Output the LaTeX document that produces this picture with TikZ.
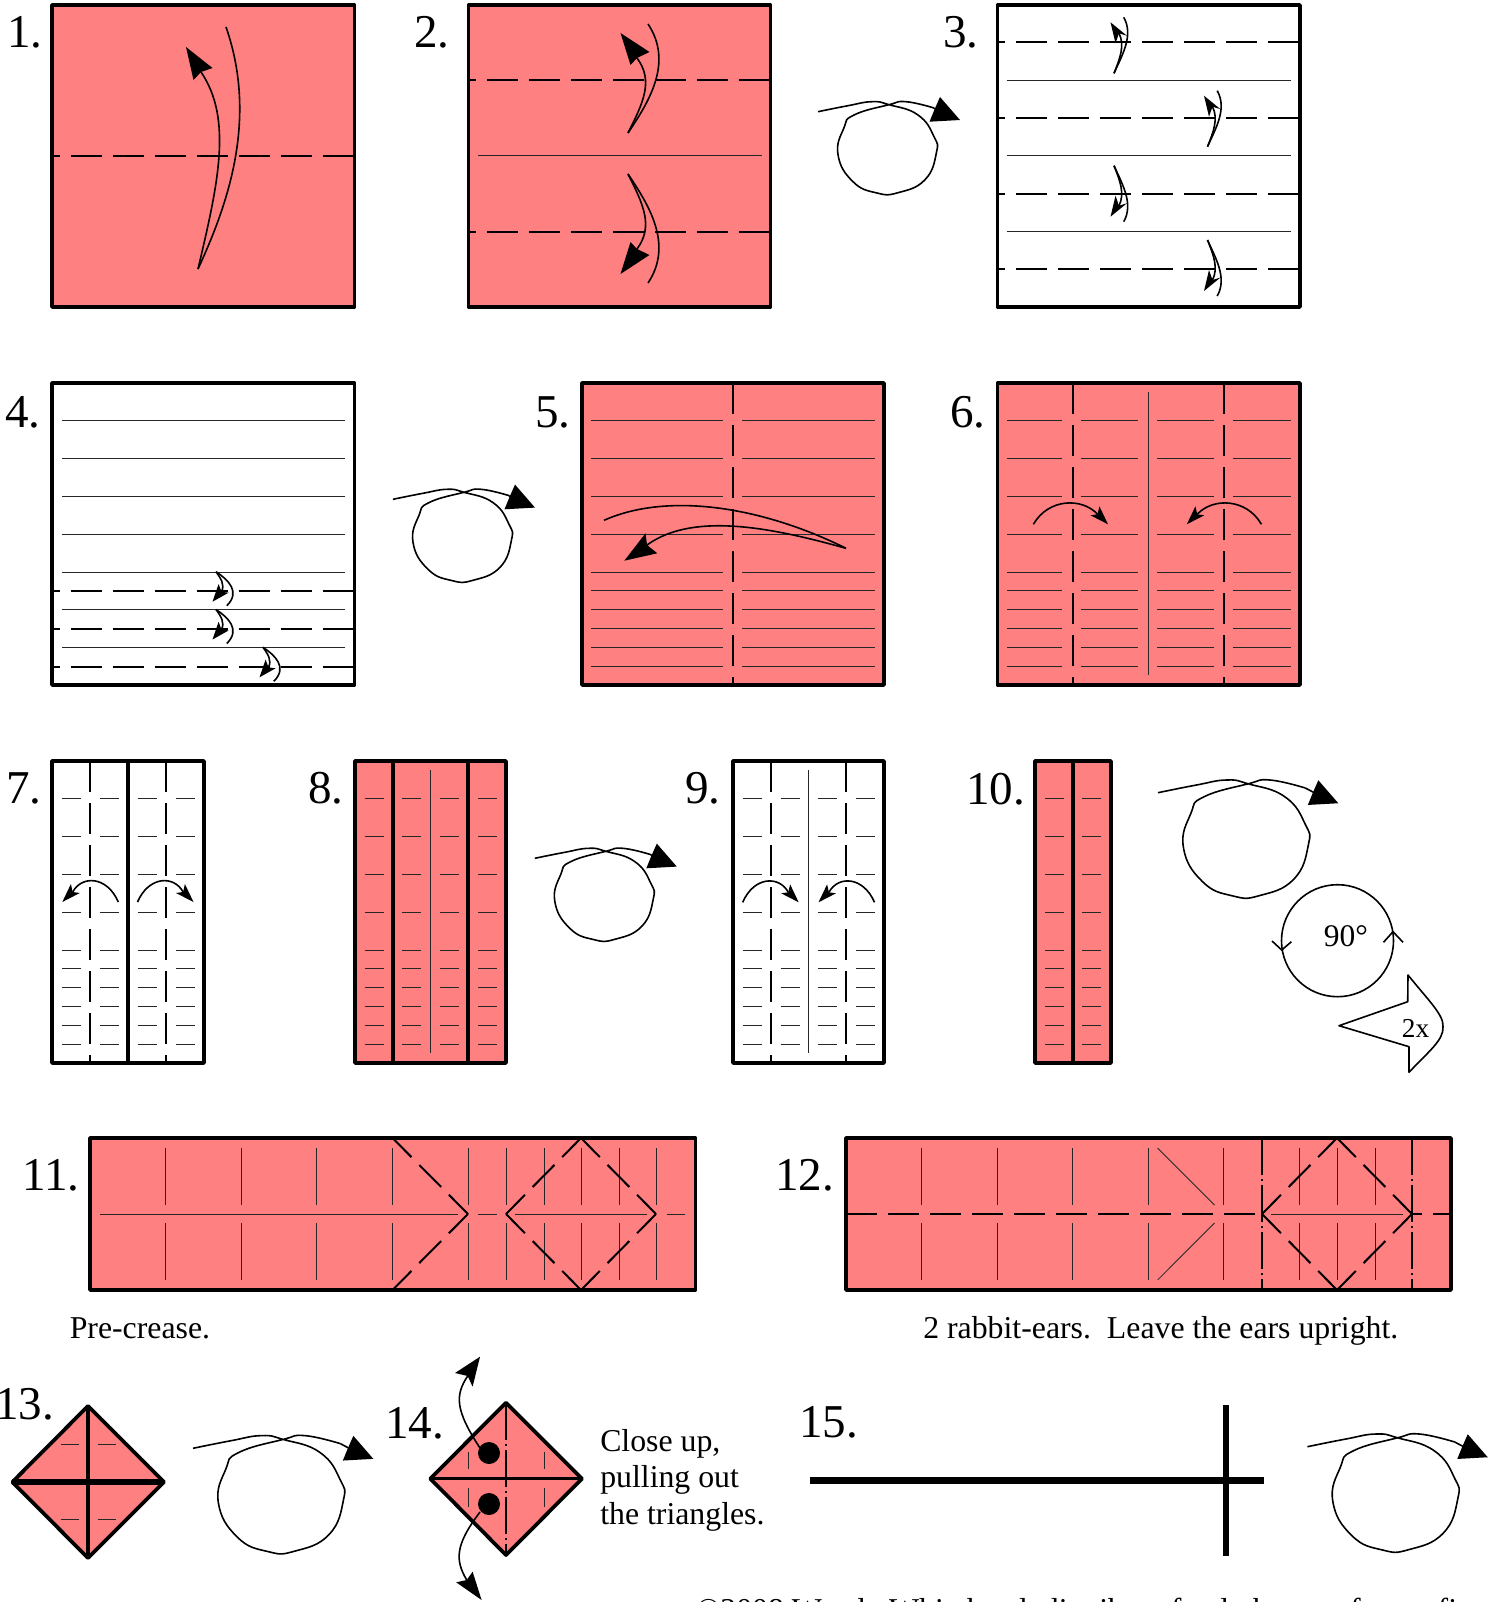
\documentclass[tikz,border=0pt]{standalone}
\usepackage{fontspec}
\setmainfont{Liberation Serif}
\definecolor{paper}{RGB}{255,128,128}
\newcommand{\creaserows}{37.8,75.6,113.4,151.2,189,207.9,226.8,245.7,264.6,283.5}

\begin{document}
\begin{tikzpicture}[x=0.75pt,y=-0.75pt,
    steplabel/.style={anchor=base west, inner sep=0pt, font=\fontsize{35.3}{40}\selectfont},
    caption/.style={anchor=base west, inner sep=0pt, font=\fontsize{23.85}{27.5}\selectfont},
    panel/.style={draw, line width=2.8pt, line join=round},
    crease/.style={line width=0.65pt, black!85},
    fold/.style={line width=1.5pt, dash pattern=on 23.25pt off 8.25pt},
    foldin/.style={fold, dash phase=17.6pt},
    diag/.style={fold, dash phase=3pt},
    mountain/.style={line width=1.4pt, dash pattern=on 28pt off 3pt on 1.3pt off 3pt},
    arrowline/.style={line width=1.2pt},
    heavy/.style={line width=4.9pt}]
\useasboundingbox (0,0) rectangle (1501,1602);

% Step labels
\node[steplabel] (num1) at (7,48) {1.};
\node[steplabel] (num2) at (414,48) {2.};
\node[steplabel] (num3) at (943,48) {3.};
\node[steplabel] (num4) at (5,427) {4.};
\node[steplabel] (num5) at (535,427) {5.};
\node[steplabel] (num6) at (950,427) {6.};
\node[steplabel] (num7) at (6,803) {7.};
\node[steplabel] (num8) at (308,803) {8.};
\node[steplabel] (num9) at (685,803) {9.};
\node[steplabel] (num10) at (966,804) {10.};
\node[steplabel] (num11) at (22,1190) {11.};
\node[steplabel] (num12) at (775,1190) {12.};
\node[steplabel] (num13) at (-5,1419) {13.};
\node[steplabel] (num14) at (385,1438) {14.};
\node[steplabel] (num15) at (799,1437) {15.};

% Row 1: squares
\filldraw[panel, fill=paper] (52,5) rectangle (354.5,307);
\filldraw[panel, fill=paper] (468.5,5) rectangle (770.5,307);
\draw[panel] (997.5,5) rectangle (1300,307);
\draw[foldin] (52,156) -- (354.5,156);
\foreach \y in {80,231.7} {
    \draw[foldin] (468.5,\y) -- (770.5,\y);
}
\draw[crease] (478,155.7) -- (762,155.7);
\foreach \y in {80.3,155.7,231} {
    \draw[crease] (1006.5,\y) -- (1290.5,\y);
}
\foreach \y in {42,118,194,269} {
    \draw[foldin] (997.5,\y) -- (1300,\y);
}

% Big valley arrow of step 1
\begin{scope}[shift={(198,269)}]
    \draw[arrowline] (0,0) .. controls (30,-65) and (60,-150) .. (28,-242);
    \draw[arrowline] (0,0) .. controls (20,-85) and (35,-150) .. (3,-197);
    \fill (-12,-222) -- (14.5,-201) -- (3,-197) -- (-4.5,-189) -- cycle;
\end{scope}

% Valley arrows of step 2
\foreach \y/\d in {133/1,174/-1} {
    \begin{scope}[shift={(628,\y)},yscale=\d]
        \draw[arrowline] (0,0) .. controls (20,-30) and (46,-70) .. (20,-109);
        \draw[arrowline] (0,0) .. controls (15,-30) and (26,-52) .. (9,-75);
        \fill (-7.5,-100) -- (21.5,-81) -- (9,-75) -- (2.5,-68) -- cycle;
    \end{scope}
}

% Small valley arrows of step 3
\foreach \x/\y/\d in {1114/73.3/1,1207.5/146.7/1,1114/165.7/-1,1207.5/240/-1} {
    \begin{scope}[shift={(\x,\y)},yscale=\d]
        \draw[arrowline] (0,0) .. controls (8,-18) and (20,-38) .. (9.7,-56);
        \draw[arrowline] (0,0) .. controls (6,-15) and (11,-28) .. (5,-40);
        \fill (-3.5,-51) -- (13,-37.5) -- (5,-40) -- (1.5,-30) -- cycle;
    \end{scope}
}

% Turn-over arrows
\foreach \x/\y/\s in {818/111.7/1,393/499.3/1,534.8/858.3/1,1158/792.7/1.27,193/1448.3/1.27,1307.4/1446.7/1.27} {
    \begin{scope}[shift={(\x,\y)}]
        \draw[arrowline, scale=\s] plot[smooth, tension=0.8] coordinates {(0,0) (30,-6) (54,-10) (71,-7) (100,3.3) (116,25) (118.4,41) (107,68) (80,81) (59,81.3) (35,70) (20,43) (26,16) (36,3.3) (71,-7) (88,-10) (116,-3.7)};
        \draw[arrowline] ({116*\s},{-3.7*\s}) -- ({142*\s-25},{8.3*\s-11});
        \fill ({142*\s},{8.3*\s}) -- ++(-20,-23) -- ++(-5.3,12) -- ++(-5.2,12.7) -- cycle;
    \end{scope}
}

% Row 2: squares
\draw[panel] (52,383) rectangle (354.5,685);
\filldraw[panel, fill=paper] (582,383) rectangle (884,685);
\filldraw[panel, fill=paper] (997.5,383) rectangle (1300,685);
\foreach \dy in {37.8,75.6,113.4,151.2,189,226.8,264.6} {
    \draw[crease] (62,{383+\dy}) -- (345,{383+\dy});
}
\foreach \dy in {207.9,245.7,283.5} {
    \draw[foldin] (52,{383+\dy}) -- (354.5,{383+\dy});
}
\foreach \xa/\xb in {591/723,742/875,1007/1062,1081/1138,1157/1214,1233/1290.5} {
    \foreach \dy in \creaserows {
        \draw[crease] (\xa,{383+\dy}) -- (\xb,{383+\dy});
    }
}
\draw[crease] (1148.6,392) -- (1148.6,675);
\foreach \x in {733,1073,1224} {
    \draw[fold] (\x,383) -- (\x,685);
}

% Valley arrows of step 4
\foreach \x/\y in {216/571.7,216/609.5,263/647.3} {
    \begin{scope}[shift={(\x,\y)}]
        \draw[arrowline] (0,0) .. controls (12,8) and (25,20) .. (10.8,34);
        \draw[arrowline] (0,0) .. controls (5,7) and (9,13) .. (5.5,20);
        \fill (-3.5,30) -- (12.6,21) -- (5.5,20) -- (2.6,12.3) -- cycle;
    \end{scope}
}

% Long arrow of step 5
\draw[arrowline] (846,548.3) .. controls (765,508) and (670,491) .. (604,520.3);
\draw[arrowline] (846,548.3) .. controls (780,530) and (695,510) .. (647,545);
\fill (624.3,560.7) -- (645.5,533.3) -- (647,545) -- (657.3,553.3) -- cycle;

% Short arcs of steps 6, 7 and 9
\foreach \x/\y/\w/\d in {1033.4/524.3/74.6/1,1261.4/524.3/74.6/-1,118.3/902/56/-1,137.5/902/56/1,742.7/902.3/56/1,874.5/902.3/56/-1} {
    \begin{scope}[shift={(\x,\y)},xscale=\d]
        \draw[arrowline] (0,0) .. controls ({0.2*\w},-26) and ({0.65*\w},-27) .. ({\w-10.4},-10);
        \fill (\w,0) -- ++(-8.6,-18) -- ++(-1.8,8) -- ++(-7.1,1) -- cycle;
    \end{scope}
}

% Row 3: narrow panels
\draw[panel] (52,761) rectangle (204,1063);
\filldraw[panel, fill=paper] (355,761) rectangle (506,1063);
\draw[panel] (733,761) rectangle (884,1063);
\filldraw[panel, fill=paper] (1035,761) rectangle (1111,1063);
\foreach \x in {128,393,468,1073} {
    \draw[panel] (\x,761) -- (\x,1063);
}
\foreach \xa in {62,99.5,137.5,175.5,364.5,402,440,478,743,780.5,818,855.5,1045,1082} {
    \foreach \dy in \creaserows {
        \draw[crease] (\xa,{761+\dy}) -- ({\xa+19},{761+\dy});
    }
}
\foreach \x in {430,808} {
    \draw[crease] (\x,770) -- (\x,1053);
}
\foreach \x in {89.7,166,771,846} {
    \draw[fold] (\x,761) -- (\x,1063);
}

% Rotation symbols beside step 10
\draw[arrowline] (1337.5,940.7) circle[radius=56];
\draw[arrowline] (1272,941) -- (1281.7,950) -- (1291.4,941.7);
\draw[arrowline] (1383.5,942.3) -- (1393,931.7) -- (1403,942.3);
\node[inner sep=0pt, font=\fontsize{23.6}{27}\selectfont] (rot) at (1346,936) {90°};
\draw[arrowline, line join=round] (1339,1025.7) -- (1407.7,1001.7) -- (1408,975) .. controls (1428,1000) and (1444,1015) .. (1443,1026.7) .. controls (1444,1040) and (1428,1052) .. (1409,1072.3) -- (1409,1046.7) -- cycle;
\node[inner sep=0pt, font=\fontsize{20.5}{24}\selectfont] (times) at (1415.5,1028) {2x};

% Row 4: long panels
\filldraw[panel, fill=paper] (90,1138) rectangle (695.5,1290);
\filldraw[panel, fill=paper] (846,1138) rectangle (1451,1290);
\foreach \x in {165,241.5,316,392.5,468,506,544,581,619,656.6,921.6,997,1072.7,1148.4,1223.7,1299.5,1337,1375} {
    \draw[crease] (\x,1148) -- (\x,1205);
    \draw[crease] (\x,1223) -- (\x,1280);
}
\foreach \xa/\xb in {100/458,477.5/497,515/647,667/685,1271/1403} {
    \draw[crease] (\xa,1214) -- (\xb,1214);
}
\draw[crease] (1157.6,1148) -- (1214.5,1205);
\draw[crease] (1157.6,1280) -- (1214.5,1223);
\draw[diag] (392.5,1138) -- (468,1214);
\draw[diag] (392.5,1290) -- (468,1214);
\foreach \x in {506,1262} {
    \draw[diag] (\x,1214) -- ({\x+75},1138);
    \draw[diag] (\x,1214) -- ({\x+75},1290);
    \draw[diag] ({\x+150},1214) -- ({\x+75},1138);
    \draw[diag] ({\x+150},1214) -- ({\x+75},1290);
}
\draw[fold] (846,1214) -- (1262,1214);
\draw[fold, dash phase=15.75pt] (1412,1214) -- (1451,1214);
\foreach \x in {1262,1412} {
    \draw[mountain] (\x,1138) -- (\x,1290);
}
\node[caption] (precrease) at (69.5,1338) {Pre-crease.};
\node[caption] (rabbit) at (923,1338) {2 rabbit-ears.\ \ Leave the ears upright.};

% Step 13: closed diamond
\filldraw[panel, fill=paper] (12.4,1482) -- (88,1406) -- (164,1482) -- (88,1558) -- cycle;
\draw[panel] (88,1406) -- (88,1558);
\draw[heavy] (12.4,1482) -- (164,1482);
\foreach \xa/\xb in {60.7/78.6,98/116} {
    \foreach \y in {1444,1519.7} {
        \draw[crease] (\xa,\y) -- (\xb,\y);
    }
}

% Step 14: diamond with pull points
\filldraw[panel, fill=paper] (430.3,1478.7) -- (506,1402.7) -- (582,1478.7) -- (506,1555) -- cycle;
\draw[line width=2.6pt] (430.3,1478.7) -- (582,1478.7);
\draw[mountain] (506,1402.7) -- (506,1555);
\foreach \x in {468,544} {
    \draw[crease] (\x,1451.7) -- (\x,1469);
    \draw[crease] (\x,1488) -- (\x,1506.7);
}
\fill (489,1453) circle[radius=11];
\fill (489,1504) circle[radius=11];
\draw[arrowline] (480,1448) .. controls (455,1410) and (455,1395) .. (467.7,1376);
\fill (480,1356.7) -- (455,1373) -- (467.7,1376) -- (472.6,1386.7) -- cycle;
\draw[arrowline] (480,1512) .. controls (455,1545) and (455,1560) .. (466.7,1580);
\fill (481.6,1600) -- (456.2,1582.3) -- (466.7,1580) -- (472.6,1571.7) -- cycle;
\node[caption] (closeA) at (600,1451) {Close up,};
\node[caption] (closeB) at (600,1487.7) {pulling out};
\node[caption] (closeC) at (600,1524) {the triangles.};

% Step 15: edge view
\draw[line width=4.9pt] (810,1480.3) -- (1263.7,1480.3);
\draw[line width=4.9pt] (1226,1405) -- (1226,1556);

% Bottom line
\node[caption] (credit) at (696,1620) {©2008 Wendy Whitehead, distribute freely but not for profit.};
\end{tikzpicture}
\end{document}
